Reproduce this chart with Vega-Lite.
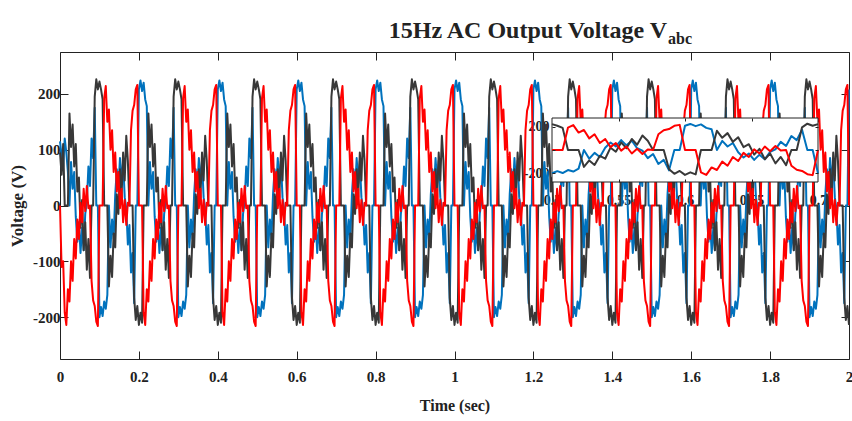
{
"$schema":"https://vega.github.io/schema/vega-lite/v6.json",
"width":789,"height":307,"autosize":"none",
"padding":{"left":60,"top":52,"right":3,"bottom":62},
"background":"white",
"config":{"font":"Liberation Serif","view":{"stroke":"#222","strokeWidth":1},
"axis":{"labelFont":"Liberation Serif","titleFont":"Liberation Serif","labelFontWeight":"bold","titleFontWeight":"bold","labelColor":"#222","titleColor":"#222","domain":false,"grid":false,"tickColor":"#222","labelFlush":false}},
"datasets":{"w":[
{"t":0,"a":95,"b":115,"c":0},{"t":0.004,"a":55,"b":90,"c":-110},{"t":0.008,"a":110,"b":70,"c":-100},{"t":0.012,"a":0,"b":120,"c":-192},{"t":0.016,"a":0,"b":95,"c":-214},{"t":0.02,"a":0,"b":60,"c":-150},{"t":0.024,"a":165,"b":0,"c":-172},{"t":0.028,"a":105,"b":78,"c":-100},{"t":0.032,"a":145,"b":30,"c":-135},{"t":0.036,"a":70,"b":60,"c":-60},{"t":0.04,"a":110,"b":-20,"c":-95},{"t":0.044,"a":25,"b":-65,"c":-25},{"t":0.048,"a":50,"b":-30,"c":-60},{"t":0.052,"a":-40,"b":-85,"c":5},{"t":0.056,"a":10,"b":-40,"c":-30},{"t":0.06,"a":-80,"b":-80,"c":30},{"t":0.064,"a":-30,"b":-15,"c":-10},{"t":0.068,"a":-115,"b":5,"c":35},{"t":0.072,"a":-60,"b":70,"c":-5},{"t":0.076,"a":-130,"b":35,"c":0},{"t":0.08,"a":0,"b":120,"c":-135},{"t":0.084,"a":0,"b":85,"c":-170},{"t":0.088,"a":195,"b":175,"c":-180},{"t":0.092,"a":226,"b":0,"c":-208},{"t":0.096,"a":208,"b":0,"c":-216},
{"t":0.1,"a":222,"b":-200,"c":0},{"t":0.104,"a":208,"b":-182,"c":0},{"t":0.108,"a":190,"b":-198,"c":0},{"t":0.112,"a":0,"b":-172,"c":192},{"t":0.116,"a":0,"b":-185,"c":214},{"t":0.12,"a":0,"b":-160,"c":150},{"t":0.124,"a":-145,"b":0,"c":172},{"t":0.128,"a":-90,"b":-75,"c":100},{"t":0.132,"a":-128,"b":-25,"c":135},{"t":0.136,"a":-50,"b":-60,"c":60},{"t":0.14,"a":-75,"b":20,"c":95},{"t":0.144,"a":20,"b":65,"c":25},{"t":0.148,"a":-15,"b":30,"c":60},{"t":0.152,"a":65,"b":85,"c":-5},{"t":0.156,"a":15,"b":40,"c":30},{"t":0.16,"a":95,"b":80,"c":-30},{"t":0.164,"a":45,"b":15,"c":10},{"t":0.168,"a":125,"b":-5,"c":-35},{"t":0.172,"a":80,"b":-70,"c":5},{"t":0.176,"a":0,"b":-35,"c":0},{"t":0.18,"a":0,"b":-120,"c":135},{"t":0.184,"a":0,"b":-85,"c":170},{"t":0.188,"a":-165,"b":-175,"c":180},{"t":0.192,"a":-205,"b":0,"c":208},{"t":0.196,"a":-180,"b":0,"c":216},
{"t":0.2,"a":-214,"b":208,"c":0},{"t":0.204,"a":-192,"b":224,"c":0},{"t":0.208,"a":-210,"b":205,"c":0},{"t":0.212,"a":0,"b":220,"c":-192},{"t":0.216,"a":0,"b":190,"c":-214},{"t":0.22,"a":0,"b":178,"c":-150},{"t":0.224,"a":165,"b":0,"c":-172},{"t":0.228,"a":105,"b":78,"c":-100},{"t":0.232,"a":145,"b":30,"c":-135},{"t":0.236,"a":70,"b":60,"c":-60},{"t":0.24,"a":110,"b":-20,"c":-95},{"t":0.244,"a":25,"b":-65,"c":-25},{"t":0.248,"a":50,"b":-30,"c":-60},{"t":0.252,"a":-40,"b":-85,"c":5},{"t":0.256,"a":10,"b":-40,"c":-30},{"t":0.26,"a":-80,"b":-80,"c":30},{"t":0.264,"a":-30,"b":-15,"c":-10},{"t":0.268,"a":-115,"b":5,"c":35},{"t":0.272,"a":-60,"b":70,"c":-5},{"t":0.276,"a":-130,"b":35,"c":0},{"t":0.28,"a":0,"b":120,"c":-135},{"t":0.284,"a":0,"b":85,"c":-170},{"t":0.288,"a":195,"b":175,"c":-180},{"t":0.292,"a":226,"b":0,"c":-208},{"t":0.296,"a":208,"b":0,"c":-216},
{"t":0.3,"a":222,"b":-200,"c":0},{"t":0.304,"a":208,"b":-182,"c":0},{"t":0.308,"a":190,"b":-198,"c":0},{"t":0.312,"a":0,"b":-172,"c":192},{"t":0.316,"a":0,"b":-185,"c":214},{"t":0.32,"a":0,"b":-160,"c":150},{"t":0.324,"a":-145,"b":0,"c":172},{"t":0.328,"a":-90,"b":-75,"c":100},{"t":0.332,"a":-128,"b":-25,"c":135},{"t":0.336,"a":-50,"b":-60,"c":60},{"t":0.34,"a":-75,"b":20,"c":95},{"t":0.344,"a":20,"b":65,"c":25},{"t":0.348,"a":-15,"b":30,"c":60},{"t":0.352,"a":65,"b":85,"c":-5},{"t":0.356,"a":15,"b":40,"c":30},{"t":0.36,"a":95,"b":80,"c":-30},{"t":0.364,"a":45,"b":15,"c":10},{"t":0.368,"a":125,"b":-5,"c":-35},{"t":0.372,"a":80,"b":-70,"c":5},{"t":0.376,"a":0,"b":-35,"c":0},{"t":0.38,"a":0,"b":-120,"c":135},{"t":0.384,"a":0,"b":-85,"c":170},{"t":0.388,"a":-165,"b":-175,"c":180},{"t":0.392,"a":-205,"b":0,"c":208},{"t":0.396,"a":-180,"b":0,"c":216},
{"t":0.4,"a":-214,"b":208,"c":0},{"t":0.404,"a":-192,"b":224,"c":0},{"t":0.408,"a":-210,"b":205,"c":0},{"t":0.412,"a":0,"b":220,"c":-192},{"t":0.416,"a":0,"b":190,"c":-214},{"t":0.42,"a":0,"b":178,"c":-150},{"t":0.424,"a":165,"b":0,"c":-172},{"t":0.428,"a":105,"b":78,"c":-100},{"t":0.432,"a":145,"b":30,"c":-135},{"t":0.436,"a":70,"b":60,"c":-60},{"t":0.44,"a":110,"b":-20,"c":-95},{"t":0.444,"a":25,"b":-65,"c":-25},{"t":0.448,"a":50,"b":-30,"c":-60},{"t":0.452,"a":-40,"b":-85,"c":5},{"t":0.456,"a":10,"b":-40,"c":-30},{"t":0.46,"a":-80,"b":-80,"c":30},{"t":0.464,"a":-30,"b":-15,"c":-10},{"t":0.468,"a":-115,"b":5,"c":35},{"t":0.472,"a":-60,"b":70,"c":-5},{"t":0.476,"a":-130,"b":35,"c":0},{"t":0.48,"a":0,"b":120,"c":-135},{"t":0.484,"a":0,"b":85,"c":-170},{"t":0.488,"a":195,"b":175,"c":-180},{"t":0.492,"a":226,"b":0,"c":-208},{"t":0.496,"a":208,"b":0,"c":-216},
{"t":0.5,"a":222,"b":-200,"c":0},{"t":0.504,"a":208,"b":-182,"c":0},{"t":0.508,"a":190,"b":-198,"c":0},{"t":0.512,"a":0,"b":-172,"c":192},{"t":0.516,"a":0,"b":-185,"c":214},{"t":0.52,"a":0,"b":-160,"c":150},{"t":0.524,"a":-145,"b":0,"c":172},{"t":0.528,"a":-90,"b":-75,"c":100},{"t":0.532,"a":-128,"b":-25,"c":135},{"t":0.536,"a":-50,"b":-60,"c":60},{"t":0.54,"a":-75,"b":20,"c":95},{"t":0.544,"a":20,"b":65,"c":25},{"t":0.548,"a":-15,"b":30,"c":60},{"t":0.552,"a":65,"b":85,"c":-5},{"t":0.556,"a":15,"b":40,"c":30},{"t":0.56,"a":95,"b":80,"c":-30},{"t":0.564,"a":45,"b":15,"c":10},{"t":0.568,"a":125,"b":-5,"c":-35},{"t":0.572,"a":80,"b":-70,"c":5},{"t":0.576,"a":0,"b":-35,"c":0},{"t":0.58,"a":0,"b":-120,"c":135},{"t":0.584,"a":0,"b":-85,"c":170},{"t":0.588,"a":-165,"b":-175,"c":180},{"t":0.592,"a":-205,"b":0,"c":208},{"t":0.596,"a":-180,"b":0,"c":216},
{"t":0.6,"a":-214,"b":208,"c":0},{"t":0.604,"a":-192,"b":224,"c":0},{"t":0.608,"a":-210,"b":205,"c":0},{"t":0.612,"a":0,"b":220,"c":-192},{"t":0.616,"a":0,"b":190,"c":-214},{"t":0.62,"a":0,"b":178,"c":-150},{"t":0.624,"a":165,"b":0,"c":-172},{"t":0.628,"a":105,"b":78,"c":-100},{"t":0.632,"a":145,"b":30,"c":-135},{"t":0.636,"a":70,"b":60,"c":-60},{"t":0.64,"a":110,"b":-20,"c":-95},{"t":0.644,"a":25,"b":-65,"c":-25},{"t":0.648,"a":50,"b":-30,"c":-60},{"t":0.652,"a":-40,"b":-85,"c":5},{"t":0.656,"a":10,"b":-40,"c":-30},{"t":0.66,"a":-80,"b":-80,"c":30},{"t":0.664,"a":-30,"b":-15,"c":-10},{"t":0.668,"a":-115,"b":5,"c":35},{"t":0.672,"a":-60,"b":70,"c":-5},{"t":0.676,"a":-130,"b":35,"c":0},{"t":0.68,"a":0,"b":120,"c":-135},{"t":0.684,"a":0,"b":85,"c":-170},{"t":0.688,"a":195,"b":175,"c":-180},{"t":0.692,"a":226,"b":0,"c":-208},{"t":0.696,"a":208,"b":0,"c":-216},
{"t":0.7,"a":222,"b":-200,"c":0},{"t":0.704,"a":208,"b":-182,"c":0},{"t":0.708,"a":190,"b":-198,"c":0},{"t":0.712,"a":0,"b":-172,"c":192},{"t":0.716,"a":0,"b":-185,"c":214},{"t":0.72,"a":0,"b":-160,"c":150},{"t":0.724,"a":-145,"b":0,"c":172},{"t":0.728,"a":-90,"b":-75,"c":100},{"t":0.732,"a":-128,"b":-25,"c":135},{"t":0.736,"a":-50,"b":-60,"c":60},{"t":0.74,"a":-75,"b":20,"c":95},{"t":0.744,"a":20,"b":65,"c":25},{"t":0.748,"a":-15,"b":30,"c":60},{"t":0.752,"a":65,"b":85,"c":-5},{"t":0.756,"a":15,"b":40,"c":30},{"t":0.76,"a":95,"b":80,"c":-30},{"t":0.764,"a":45,"b":15,"c":10},{"t":0.768,"a":125,"b":-5,"c":-35},{"t":0.772,"a":80,"b":-70,"c":5},{"t":0.776,"a":0,"b":-35,"c":0},{"t":0.78,"a":0,"b":-120,"c":135},{"t":0.784,"a":0,"b":-85,"c":170},{"t":0.788,"a":-165,"b":-175,"c":180},{"t":0.792,"a":-205,"b":0,"c":208},{"t":0.796,"a":-180,"b":0,"c":216},
{"t":0.8,"a":-214,"b":208,"c":0},{"t":0.804,"a":-192,"b":224,"c":0},{"t":0.808,"a":-210,"b":205,"c":0},{"t":0.812,"a":0,"b":220,"c":-192},{"t":0.816,"a":0,"b":190,"c":-214},{"t":0.82,"a":0,"b":178,"c":-150},{"t":0.824,"a":165,"b":0,"c":-172},{"t":0.828,"a":105,"b":78,"c":-100},{"t":0.832,"a":145,"b":30,"c":-135},{"t":0.836,"a":70,"b":60,"c":-60},{"t":0.84,"a":110,"b":-20,"c":-95},{"t":0.844,"a":25,"b":-65,"c":-25},{"t":0.848,"a":50,"b":-30,"c":-60},{"t":0.852,"a":-40,"b":-85,"c":5},{"t":0.856,"a":10,"b":-40,"c":-30},{"t":0.86,"a":-80,"b":-80,"c":30},{"t":0.864,"a":-30,"b":-15,"c":-10},{"t":0.868,"a":-115,"b":5,"c":35},{"t":0.872,"a":-60,"b":70,"c":-5},{"t":0.876,"a":-130,"b":35,"c":0},{"t":0.88,"a":0,"b":120,"c":-135},{"t":0.884,"a":0,"b":85,"c":-170},{"t":0.888,"a":195,"b":175,"c":-180},{"t":0.892,"a":226,"b":0,"c":-208},{"t":0.896,"a":208,"b":0,"c":-216},
{"t":0.9,"a":222,"b":-200,"c":0},{"t":0.904,"a":208,"b":-182,"c":0},{"t":0.908,"a":190,"b":-198,"c":0},{"t":0.912,"a":0,"b":-172,"c":192},{"t":0.916,"a":0,"b":-185,"c":214},{"t":0.92,"a":0,"b":-160,"c":150},{"t":0.924,"a":-145,"b":0,"c":172},{"t":0.928,"a":-90,"b":-75,"c":100},{"t":0.932,"a":-128,"b":-25,"c":135},{"t":0.936,"a":-50,"b":-60,"c":60},{"t":0.94,"a":-75,"b":20,"c":95},{"t":0.944,"a":20,"b":65,"c":25},{"t":0.948,"a":-15,"b":30,"c":60},{"t":0.952,"a":65,"b":85,"c":-5},{"t":0.956,"a":15,"b":40,"c":30},{"t":0.96,"a":95,"b":80,"c":-30},{"t":0.964,"a":45,"b":15,"c":10},{"t":0.968,"a":125,"b":-5,"c":-35},{"t":0.972,"a":80,"b":-70,"c":5},{"t":0.976,"a":0,"b":-35,"c":0},{"t":0.98,"a":0,"b":-120,"c":135},{"t":0.984,"a":0,"b":-85,"c":170},{"t":0.988,"a":-165,"b":-175,"c":180},{"t":0.992,"a":-205,"b":0,"c":208},{"t":0.996,"a":-180,"b":0,"c":216},
{"t":1,"a":-214,"b":208,"c":0},{"t":1.004,"a":-192,"b":224,"c":0},{"t":1.008,"a":-210,"b":205,"c":0},{"t":1.012,"a":0,"b":220,"c":-192},{"t":1.016,"a":0,"b":190,"c":-214},{"t":1.02,"a":0,"b":178,"c":-150},{"t":1.024,"a":165,"b":0,"c":-172},{"t":1.028,"a":105,"b":78,"c":-100},{"t":1.032,"a":145,"b":30,"c":-135},{"t":1.036,"a":70,"b":60,"c":-60},{"t":1.04,"a":110,"b":-20,"c":-95},{"t":1.044,"a":25,"b":-65,"c":-25},{"t":1.048,"a":50,"b":-30,"c":-60},{"t":1.052,"a":-40,"b":-85,"c":5},{"t":1.056,"a":10,"b":-40,"c":-30},{"t":1.06,"a":-80,"b":-80,"c":30},{"t":1.064,"a":-30,"b":-15,"c":-10},{"t":1.068,"a":-115,"b":5,"c":35},{"t":1.072,"a":-60,"b":70,"c":-5},{"t":1.076,"a":-130,"b":35,"c":0},{"t":1.08,"a":0,"b":120,"c":-135},{"t":1.084,"a":0,"b":85,"c":-170},{"t":1.088,"a":195,"b":175,"c":-180},{"t":1.092,"a":226,"b":0,"c":-208},{"t":1.096,"a":208,"b":0,"c":-216},
{"t":1.1,"a":222,"b":-200,"c":0},{"t":1.104,"a":208,"b":-182,"c":0},{"t":1.108,"a":190,"b":-198,"c":0},{"t":1.112,"a":0,"b":-172,"c":192},{"t":1.116,"a":0,"b":-185,"c":214},{"t":1.12,"a":0,"b":-160,"c":150},{"t":1.124,"a":-145,"b":0,"c":172},{"t":1.128,"a":-90,"b":-75,"c":100},{"t":1.132,"a":-128,"b":-25,"c":135},{"t":1.136,"a":-50,"b":-60,"c":60},{"t":1.14,"a":-75,"b":20,"c":95},{"t":1.144,"a":20,"b":65,"c":25},{"t":1.148,"a":-15,"b":30,"c":60},{"t":1.152,"a":65,"b":85,"c":-5},{"t":1.156,"a":15,"b":40,"c":30},{"t":1.16,"a":95,"b":80,"c":-30},{"t":1.164,"a":45,"b":15,"c":10},{"t":1.168,"a":125,"b":-5,"c":-35},{"t":1.172,"a":80,"b":-70,"c":5},{"t":1.176,"a":0,"b":-35,"c":0},{"t":1.18,"a":0,"b":-120,"c":135},{"t":1.184,"a":0,"b":-85,"c":170},{"t":1.188,"a":-165,"b":-175,"c":180},{"t":1.192,"a":-205,"b":0,"c":208},{"t":1.196,"a":-180,"b":0,"c":216},
{"t":1.2,"a":-214,"b":208,"c":0},{"t":1.204,"a":-192,"b":224,"c":0},{"t":1.208,"a":-210,"b":205,"c":0},{"t":1.212,"a":0,"b":220,"c":-192},{"t":1.216,"a":0,"b":190,"c":-214},{"t":1.22,"a":0,"b":178,"c":-150},{"t":1.224,"a":165,"b":0,"c":-172},{"t":1.228,"a":105,"b":78,"c":-100},{"t":1.232,"a":145,"b":30,"c":-135},{"t":1.236,"a":70,"b":60,"c":-60},{"t":1.24,"a":110,"b":-20,"c":-95},{"t":1.244,"a":25,"b":-65,"c":-25},{"t":1.248,"a":50,"b":-30,"c":-60},{"t":1.252,"a":-40,"b":-85,"c":5},{"t":1.256,"a":10,"b":-40,"c":-30},{"t":1.26,"a":-80,"b":-80,"c":30},{"t":1.264,"a":-30,"b":-15,"c":-10},{"t":1.268,"a":-115,"b":5,"c":35},{"t":1.272,"a":-60,"b":70,"c":-5},{"t":1.276,"a":-130,"b":35,"c":0},{"t":1.28,"a":0,"b":120,"c":-135},{"t":1.284,"a":0,"b":85,"c":-170},{"t":1.288,"a":195,"b":175,"c":-180},{"t":1.292,"a":226,"b":0,"c":-208},{"t":1.296,"a":208,"b":0,"c":-216},
{"t":1.3,"a":222,"b":-200,"c":0},{"t":1.304,"a":208,"b":-182,"c":0},{"t":1.308,"a":190,"b":-198,"c":0},{"t":1.312,"a":0,"b":-172,"c":192},{"t":1.316,"a":0,"b":-185,"c":214},{"t":1.32,"a":0,"b":-160,"c":150},{"t":1.324,"a":-145,"b":0,"c":172},{"t":1.328,"a":-90,"b":-75,"c":100},{"t":1.332,"a":-128,"b":-25,"c":135},{"t":1.336,"a":-50,"b":-60,"c":60},{"t":1.34,"a":-75,"b":20,"c":95},{"t":1.344,"a":20,"b":65,"c":25},{"t":1.348,"a":-15,"b":30,"c":60},{"t":1.352,"a":65,"b":85,"c":-5},{"t":1.356,"a":15,"b":40,"c":30},{"t":1.36,"a":95,"b":80,"c":-30},{"t":1.364,"a":45,"b":15,"c":10},{"t":1.368,"a":125,"b":-5,"c":-35},{"t":1.372,"a":80,"b":-70,"c":5},{"t":1.376,"a":0,"b":-35,"c":0},{"t":1.38,"a":0,"b":-120,"c":135},{"t":1.384,"a":0,"b":-85,"c":170},{"t":1.388,"a":-165,"b":-175,"c":180},{"t":1.392,"a":-205,"b":0,"c":208},{"t":1.396,"a":-180,"b":0,"c":216},
{"t":1.4,"a":-214,"b":208,"c":0},{"t":1.404,"a":-192,"b":224,"c":0},{"t":1.408,"a":-210,"b":205,"c":0},{"t":1.412,"a":0,"b":220,"c":-192},{"t":1.416,"a":0,"b":190,"c":-214},{"t":1.42,"a":0,"b":178,"c":-150},{"t":1.424,"a":165,"b":0,"c":-172},{"t":1.428,"a":105,"b":78,"c":-100},{"t":1.432,"a":145,"b":30,"c":-135},{"t":1.436,"a":70,"b":60,"c":-60},{"t":1.44,"a":110,"b":-20,"c":-95},{"t":1.444,"a":25,"b":-65,"c":-25},{"t":1.448,"a":50,"b":-30,"c":-60},{"t":1.452,"a":-40,"b":-85,"c":5},{"t":1.456,"a":10,"b":-40,"c":-30},{"t":1.46,"a":-80,"b":-80,"c":30},{"t":1.464,"a":-30,"b":-15,"c":-10},{"t":1.468,"a":-115,"b":5,"c":35},{"t":1.472,"a":-60,"b":70,"c":-5},{"t":1.476,"a":-130,"b":35,"c":0},{"t":1.48,"a":0,"b":120,"c":-135},{"t":1.484,"a":0,"b":85,"c":-170},{"t":1.488,"a":195,"b":175,"c":-180},{"t":1.492,"a":226,"b":0,"c":-208},{"t":1.496,"a":208,"b":0,"c":-216},
{"t":1.5,"a":222,"b":-200,"c":0},{"t":1.504,"a":208,"b":-182,"c":0},{"t":1.508,"a":190,"b":-198,"c":0},{"t":1.512,"a":0,"b":-172,"c":192},{"t":1.516,"a":0,"b":-185,"c":214},{"t":1.52,"a":0,"b":-160,"c":150},{"t":1.524,"a":-145,"b":0,"c":172},{"t":1.528,"a":-90,"b":-75,"c":100},{"t":1.532,"a":-128,"b":-25,"c":135},{"t":1.536,"a":-50,"b":-60,"c":60},{"t":1.54,"a":-75,"b":20,"c":95},{"t":1.544,"a":20,"b":65,"c":25},{"t":1.548,"a":-15,"b":30,"c":60},{"t":1.552,"a":65,"b":85,"c":-5},{"t":1.556,"a":15,"b":40,"c":30},{"t":1.56,"a":95,"b":80,"c":-30},{"t":1.564,"a":45,"b":15,"c":10},{"t":1.568,"a":125,"b":-5,"c":-35},{"t":1.572,"a":80,"b":-70,"c":5},{"t":1.576,"a":0,"b":-35,"c":0},{"t":1.58,"a":0,"b":-120,"c":135},{"t":1.584,"a":0,"b":-85,"c":170},{"t":1.588,"a":-165,"b":-175,"c":180},{"t":1.592,"a":-205,"b":0,"c":208},{"t":1.596,"a":-180,"b":0,"c":216},
{"t":1.6,"a":-214,"b":208,"c":0},{"t":1.604,"a":-192,"b":224,"c":0},{"t":1.608,"a":-210,"b":205,"c":0},{"t":1.612,"a":0,"b":220,"c":-192},{"t":1.616,"a":0,"b":190,"c":-214},{"t":1.62,"a":0,"b":178,"c":-150},{"t":1.624,"a":165,"b":0,"c":-172},{"t":1.628,"a":105,"b":78,"c":-100},{"t":1.632,"a":145,"b":30,"c":-135},{"t":1.636,"a":70,"b":60,"c":-60},{"t":1.64,"a":110,"b":-20,"c":-95},{"t":1.644,"a":25,"b":-65,"c":-25},{"t":1.648,"a":50,"b":-30,"c":-60},{"t":1.652,"a":-40,"b":-85,"c":5},{"t":1.656,"a":10,"b":-40,"c":-30},{"t":1.66,"a":-80,"b":-80,"c":30},{"t":1.664,"a":-30,"b":-15,"c":-10},{"t":1.668,"a":-115,"b":5,"c":35},{"t":1.672,"a":-60,"b":70,"c":-5},{"t":1.676,"a":-130,"b":35,"c":0},{"t":1.68,"a":0,"b":120,"c":-135},{"t":1.684,"a":0,"b":85,"c":-170},{"t":1.688,"a":195,"b":175,"c":-180},{"t":1.692,"a":226,"b":0,"c":-208},{"t":1.696,"a":208,"b":0,"c":-216},
{"t":1.7,"a":222,"b":-200,"c":0},{"t":1.704,"a":208,"b":-182,"c":0},{"t":1.708,"a":190,"b":-198,"c":0},{"t":1.712,"a":0,"b":-172,"c":192},{"t":1.716,"a":0,"b":-185,"c":214},{"t":1.72,"a":0,"b":-160,"c":150},{"t":1.724,"a":-145,"b":0,"c":172},{"t":1.728,"a":-90,"b":-75,"c":100},{"t":1.732,"a":-128,"b":-25,"c":135},{"t":1.736,"a":-50,"b":-60,"c":60},{"t":1.74,"a":-75,"b":20,"c":95},{"t":1.744,"a":20,"b":65,"c":25},{"t":1.748,"a":-15,"b":30,"c":60},{"t":1.752,"a":65,"b":85,"c":-5},{"t":1.756,"a":15,"b":40,"c":30},{"t":1.76,"a":95,"b":80,"c":-30},{"t":1.764,"a":45,"b":15,"c":10},{"t":1.768,"a":125,"b":-5,"c":-35},{"t":1.772,"a":80,"b":-70,"c":5},{"t":1.776,"a":0,"b":-35,"c":0},{"t":1.78,"a":0,"b":-120,"c":135},{"t":1.784,"a":0,"b":-85,"c":170},{"t":1.788,"a":-165,"b":-175,"c":180},{"t":1.792,"a":-205,"b":0,"c":208},{"t":1.796,"a":-180,"b":0,"c":216},
{"t":1.8,"a":-214,"b":208,"c":0},{"t":1.804,"a":-192,"b":224,"c":0},{"t":1.808,"a":-210,"b":205,"c":0},{"t":1.812,"a":0,"b":220,"c":-192},{"t":1.816,"a":0,"b":190,"c":-214},{"t":1.82,"a":0,"b":178,"c":-150},{"t":1.824,"a":165,"b":0,"c":-172},{"t":1.828,"a":105,"b":78,"c":-100},{"t":1.832,"a":145,"b":30,"c":-135},{"t":1.836,"a":70,"b":60,"c":-60},{"t":1.84,"a":110,"b":-20,"c":-95},{"t":1.844,"a":25,"b":-65,"c":-25},{"t":1.848,"a":50,"b":-30,"c":-60},{"t":1.852,"a":-40,"b":-85,"c":5},{"t":1.856,"a":10,"b":-40,"c":-30},{"t":1.86,"a":-80,"b":-80,"c":30},{"t":1.864,"a":-30,"b":-15,"c":-10},{"t":1.868,"a":-115,"b":5,"c":35},{"t":1.872,"a":-60,"b":70,"c":-5},{"t":1.876,"a":-130,"b":35,"c":0},{"t":1.88,"a":0,"b":120,"c":-135},{"t":1.884,"a":0,"b":85,"c":-170},{"t":1.888,"a":195,"b":175,"c":-180},{"t":1.892,"a":226,"b":0,"c":-208},{"t":1.896,"a":208,"b":0,"c":-216},
{"t":1.9,"a":222,"b":-200,"c":0},{"t":1.904,"a":208,"b":-182,"c":0},{"t":1.908,"a":190,"b":-198,"c":0},{"t":1.912,"a":0,"b":-172,"c":192},{"t":1.916,"a":0,"b":-185,"c":214},{"t":1.92,"a":0,"b":-160,"c":150},{"t":1.924,"a":-145,"b":0,"c":172},{"t":1.928,"a":-90,"b":-75,"c":100},{"t":1.932,"a":-128,"b":-25,"c":135},{"t":1.936,"a":-50,"b":-60,"c":60},{"t":1.94,"a":-75,"b":20,"c":95},{"t":1.944,"a":20,"b":65,"c":25},{"t":1.948,"a":-15,"b":30,"c":60},{"t":1.952,"a":65,"b":85,"c":-5},{"t":1.956,"a":15,"b":40,"c":30},{"t":1.96,"a":95,"b":80,"c":-30},{"t":1.964,"a":45,"b":15,"c":10},{"t":1.968,"a":125,"b":-5,"c":-35},{"t":1.972,"a":80,"b":-70,"c":5},{"t":1.976,"a":0,"b":-35,"c":0},{"t":1.98,"a":0,"b":-120,"c":135},{"t":1.984,"a":0,"b":-85,"c":170},{"t":1.988,"a":-165,"b":-175,"c":180},{"t":1.992,"a":-205,"b":0,"c":208},{"t":1.996,"a":-180,"b":0,"c":216},
{"t":2,"a":-214,"b":208,"c":0}
]},
"layer":[
{"layer":[
 {"data":{"name":"w"},"mark":{"type":"line","color":"#0072BD","strokeWidth":2,"strokeJoin":"round"},
  "encoding":{
   "x":{"field":"t","type":"quantitative","scale":{"domain":[0,2],"nice":false,"zero":false},
        "axis":{"orient":"bottom","values":[0,0.2,0.4,0.6,0.8,1,1.2,1.4,1.6,1.8,2],"format":"~g","tickSize":-8,"labelFontSize":15,"labelPadding":18,"title":"Time (sec)","titleFontSize":16,"titlePadding":13}},
   "y":{"field":"b","type":"quantitative","scale":{"domain":[-275,275],"nice":false,"zero":false},
        "axis":{"orient":"left","values":[-200,-100,0,100,200],"labelExpr":"(datum.value < 0 ? '-' : '') + abs(datum.value)","tickSize":-8,"labelFontSize":15,"labelPadding":8,"title":"Voltage (V)","titleFontSize":17,"titlePadding":6}}}},
 {"data":{"name":"w"},"mark":{"type":"line","color":"#383838","strokeWidth":2,"strokeJoin":"round"},
  "encoding":{
   "x":{"field":"t","type":"quantitative","axis":{"orient":"top","values":[0,0.2,0.4,0.6,0.8,1,1.2,1.4,1.6,1.8,2],"tickSize":-8,"labels":false,"title":null}},
   "y":{"field":"a","type":"quantitative","axis":{"orient":"right","values":[-200,-100,0,100,200],"tickSize":-8,"labels":false,"title":null}}}},
 {"data":{"name":"w"},"mark":{"type":"line","color":"#FF0000","strokeWidth":2,"strokeJoin":"round"},
  "encoding":{
   "x":{"field":"t","type":"quantitative","axis":null},
   "y":{"field":"c","type":"quantitative","axis":null}}},
 {"data":{"values":[{}]},"mark":{"type":"text","font":"Liberation Serif","fontWeight":"bold","fontSize":24,"align":"right","baseline":"alphabetic","color":"#222","text":"15Hz AC Output Voltage V"},
  "encoding":{"x":{"datum":1.5387,"type":"quantitative","axis":null},"y":{"datum":300,"type":"quantitative","axis":null}}},
 {"data":{"values":[{}]},"mark":{"type":"text","font":"Liberation Serif","fontWeight":"bold","fontSize":16,"align":"left","baseline":"alphabetic","color":"#222","text":"abc"},
  "encoding":{"x":{"datum":1.5412,"type":"quantitative","axis":null},"y":{"datum":290,"type":"quantitative","axis":null}}}
],
"resolve":{"axis":{"x":"independent","y":"independent"}}},
{"layer":[
 {"data":{"values":[{}]},"mark":{"type":"rect","fill":"white","stroke":"#222","strokeWidth":1},
  "encoding":{
   "x":{"datum":0.5,"type":"quantitative","scale":{"domain":[0.5,0.7],"range":[492,758],"nice":false,"zero":false},
        "axis":{"orient":"bottom","offset":-177,"values":[0.5,0.55,0.6,0.65,0.7],"format":"~g","ticks":false,"labelFontSize":14,"labelPadding":11,"title":null}},
   "x2":{"datum":0.7},
   "y":{"datum":-275,"type":"quantitative","scale":{"domain":[-275,275],"range":[130,66],"nice":false,"zero":false},
        "axis":{"orient":"left","offset":-492,"values":[-200,200],"labelExpr":"(datum.value < 0 ? '-' : '') + abs(datum.value)","ticks":false,"labelFontSize":14,"labelPadding":3,"title":null}},
   "y2":{"datum":275}}},
 {"data":{"name":"w"},"transform":[{"filter":{"field":"t","range":[0.5,0.7]}}],"mark":{"type":"line","color":"#0072BD","strokeWidth":2,"strokeJoin":"round"},
  "encoding":{
   "x":{"field":"t","type":"quantitative","axis":{"orient":"bottom","offset":-177,"values":[0.55,0.6,0.65],"tickSize":-3,"labels":false,"title":null,"zindex":1}},
   "y":{"field":"b","type":"quantitative","axis":{"orient":"right","offset":-31,"values":[-200,0,200],"tickSize":-3,"labels":false,"title":null,"zindex":1}}}},
 {"data":{"name":"w"},"transform":[{"filter":{"field":"t","range":[0.5,0.7]}}],"mark":{"type":"line","color":"#383838","strokeWidth":2,"strokeJoin":"round"},
  "encoding":{
   "x":{"field":"t","type":"quantitative","axis":{"orient":"top","offset":-66,"values":[0.55,0.6,0.65],"tickSize":-3,"labels":false,"title":null,"zindex":1}},
   "y":{"field":"a","type":"quantitative","axis":{"orient":"left","offset":-492,"values":[-200,0,200],"tickSize":-3,"labels":false,"title":null,"zindex":1}}}},
 {"data":{"name":"w"},"transform":[{"filter":{"field":"t","range":[0.5,0.7]}}],"mark":{"type":"line","color":"#FF0000","strokeWidth":2,"strokeJoin":"round"},
  "encoding":{
   "x":{"field":"t","type":"quantitative","axis":null},
   "y":{"field":"c","type":"quantitative","axis":null}}}
],
"resolve":{"axis":{"x":"independent","y":"independent"}}}
],
"resolve":{"scale":{"x":"independent","y":"independent"}}
}
